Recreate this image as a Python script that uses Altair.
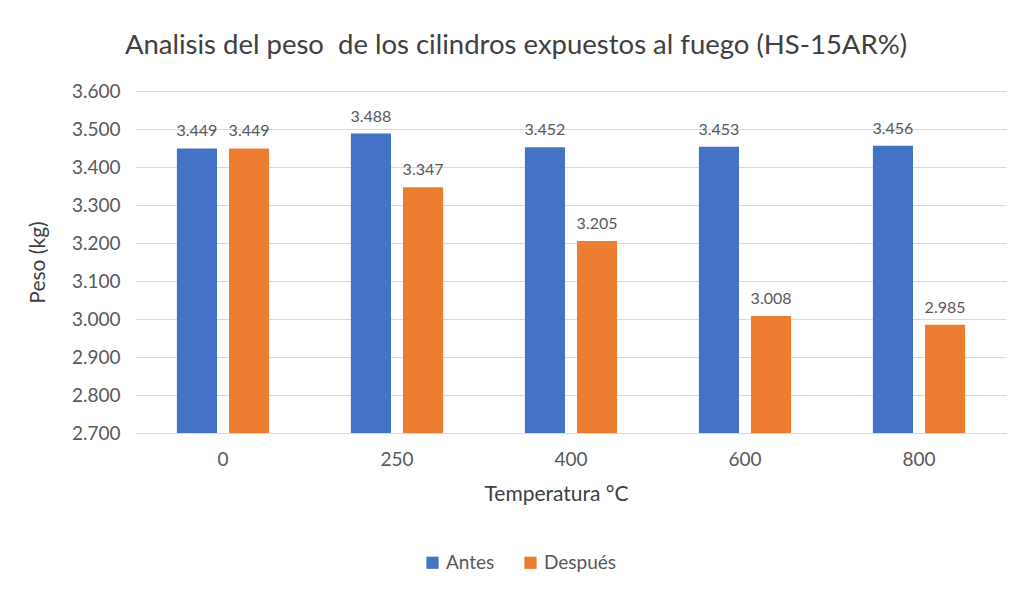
import altair as alt
import pandas as pd

temperatures = ["0", "250", "400", "600", "800"]
antes = [3.449, 3.488, 3.452, 3.453, 3.456]
despues = [3.449, 3.347, 3.205, 3.008, 2.985]
series = ["Antes", "Después"]
colors = ["#4472C4", "#ED7D31"]
y_ticks = [2.7, 2.8, 2.9, 3.0, 3.1, 3.2, 3.3, 3.4, 3.5, 3.6]

rows = []
for t, a, d in zip(temperatures, antes, despues):
    rows.append({"Temperatura": t, "Serie": "Antes", "Peso": a})
    rows.append({"Temperatura": t, "Serie": "Después", "Peso": d})
df = pd.DataFrame(rows)

FONT = "Lato"
GRAY = "#595959"

x = alt.X("Temperatura:N", sort=temperatures,
          scale=alt.Scale(paddingInner=0.47, paddingOuter=0.235),
          axis=alt.Axis(title="Temperatura °C", labelAngle=0, ticks=False,
                        domainColor="#d9d9d9", labelPadding=17, titlePadding=14,
                        labelFontSize=19, titleFontSize=21, titleX=420))
xo = alt.XOffset("Serie:N", sort=series, scale=alt.Scale(paddingInner=0.23))
y = alt.Y("Peso:Q", scale=alt.Scale(domain=[2.7, 3.6], zero=False, nice=False),
          axis=alt.Axis(title="Peso (kg)", values=y_ticks, format=".3f",
                        domain=False, ticks=False, labelPadding=16, labelOverlap=False,
                        gridColor="#d9d9d9", labelFontSize=19, titleFontSize=21,
                        titleX=-88))
color = alt.Color("Serie:N", sort=series,
                  scale=alt.Scale(domain=series, range=colors),
                  legend=alt.Legend(title=None, orient="none", direction="horizontal",
                                    legendX=287, legendY=462, symbolType="square",
                                    symbolSize=150, labelFontSize=19, columnPadding=26,
                                    labelColor=GRAY, padding=0))

base = alt.Chart(df).encode(x=x, xOffset=xo, y=y)
bars = base.mark_bar().encode(y2=alt.datum(2.7), color=color)
labels = base.mark_text(baseline="bottom", dy=-9, fontSize=16, color=GRAY, font=FONT).encode(
    text=alt.Text("Peso:Q", format=".3f"))

chart = (bars + labels).properties(
    width=870, height=342,
    title=alt.TitleParams("Analisis del peso\u00a0 de los cilindros expuestos al fuego (HS-15AR%)",
                          fontSize=27.5, font=FONT, fontWeight="normal", color="#404040",
                          dx=-55, offset=23),
    padding={"left": 128, "top": 83, "right": 8, "bottom": 150},
    autosize=alt.AutoSizeParams(type="none"),
).configure_axis(
    labelFont=FONT, titleFont=FONT, labelColor=GRAY, titleColor="#404040",
    titleFontWeight="normal"
).configure_view(stroke=None).configure_legend(labelFont=FONT)

chart.save("out.html", embed_options={"renderer": "svg", "actions": False})
